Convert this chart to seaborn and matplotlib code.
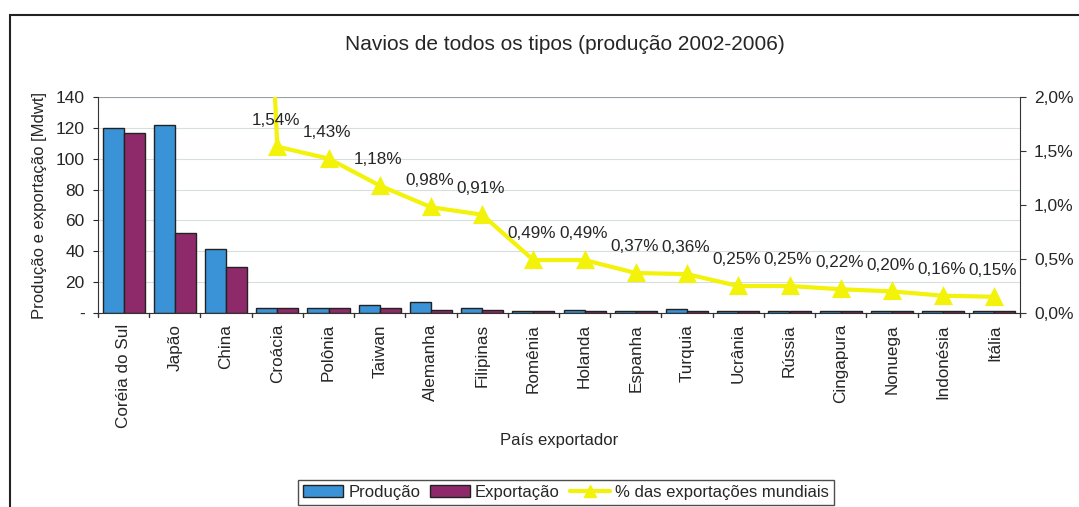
import pandas as pd
import matplotlib.pyplot as plt
import seaborn as sns
from matplotlib.patches import Rectangle
from matplotlib.lines import Line2D

# dados do gráfico
paises = ['Coréia do Sul', 'Japão', 'China', 'Croácia', 'Polônia', 'Taiwan', 'Alemanha',
          'Filipinas', 'Romênia', 'Holanda', 'Espanha', 'Turquia', 'Ucrânia', 'Rússia',
          'Cingapura', 'Nonuega', 'Indonésia', 'Itália']
producao = [120, 122, 41.5, 3, 3, 5.5, 7, 3, 1, 2, 1, 2.5, 1, 1, 1, 1, 1.5, 1.5]
exportacao = [116.5, 52, 30, 3, 3, 3, 2, 2, 1, 1, 1, 1, 1, 1, 1, 1, 1, 1]
# % das exportações mundiais (os três primeiros ficam fora da escala)
pct_export = [40.0, 18.0, 12.0, 1.54, 1.43, 1.18, 0.98, 0.91, 0.49, 0.49, 0.37, 0.36,
              0.25, 0.25, 0.22, 0.20, 0.16, 0.15]

sns.set_style("white")
plt.rcParams['font.family'] = ['Liberation Sans', 'DejaVu Sans']

df = pd.DataFrame({'Pais': paises, 'Produção': producao, 'Exportação': exportacao})
df_long = df.melt(id_vars='Pais', var_name='Tipo', value_name='Mdwt')

fig = plt.figure(figsize=(10.79, 5.07), dpi=100)
ax = fig.add_axes([98 / 1079, 1 - 313 / 507, 922 / 1079, 216 / 507])

sns.barplot(data=df_long, x='Pais', y='Mdwt', hue='Tipo', ax=ax,
            palette=['#3a93d6', '#8e2a6a'], edgecolor='#222222', linewidth=1,
            width=0.82, saturation=1, legend=False)

ax.set_ylim(0, 140)
ax.set_yticks(range(0, 141, 20))
ax.set_yticklabels(['-'] + [str(v) for v in range(20, 141, 20)], fontsize=12.5)
ax.set_xlabel('País exportador', fontsize=12, labelpad=3)
ax.set_ylabel('Produção e exportação [Mdwt]', fontsize=12, labelpad=6)
ax.tick_params(axis='x', labelrotation=90, labelsize=12.3, length=0, pad=8)
ax.tick_params(axis='y', pad=6)
ax.grid(axis='y', color='#d8dde0', linewidth=0.8)
ax.set_axisbelow(True)
for s in ['top', 'right']:
    ax.spines[s].set_visible(False)
for s in ['left', 'bottom']:
    ax.spines[s].set_color('#333333')
# marcas entre as categorias
for i in range(len(paises) + 1):
    ax.plot([i - 0.5, i - 0.5], [0, -2.5], color='#333333', lw=1, clip_on=False)
ax.axhline(140, color='#9aa0a4', lw=0.8)

ax2 = ax.twinx()
sns.pointplot(x=paises, y=pct_export, ax=ax2, color='#f2f20a', markers='^',
              markersize=10, linewidth=3, errorbar=None)
ax2.set_xlim(ax.get_xlim())
ax2.set_ylim(0, 2.0)
ax2.set_yticks([0, 0.5, 1.0, 1.5, 2.0])
ax2.set_yticklabels(['0,0%', '0,5%', '1,0%', '1,5%', '2,0%'], fontsize=12.5)
ax2.tick_params(axis='y', length=4, color='#333333', pad=6)
for s in ['top', 'left', 'bottom']:
    ax2.spines[s].set_visible(False)
ax2.spines['right'].set_color('#333333')

for i, v in enumerate(pct_export):
    if v <= 2.0:
        ax2.annotate(f'{v:.2f}%'.replace('.', ','), (i, v), xytext=(-1, 19),
                     textcoords='offset points', ha='center', va='center',
                     fontsize=12.3)

fig.text(0.5235, 1 - 44 / 507, 'Navios de todos os tipos (produção 2002-2006)',
         ha='center', va='center', fontsize=15)

# borda da área do gráfico
fig.patches.append(Rectangle((10 / 1079, -0.05), 1.1, 1 - 15 / 507 + 0.05,
                             transform=fig.transFigure, fill=False,
                             edgecolor='#222222', linewidth=1.5))

handles = [
    Rectangle((0, 0), 1, 1, facecolor='#3a93d6', edgecolor='#222222'),
    Rectangle((0, 0), 1, 1, facecolor='#8e2a6a', edgecolor='#222222'),
    Line2D([0], [0], color='#f2f20a', lw=3, marker='^', markersize=8),
]
fig.legend(handles, ['Produção', 'Exportação', '% das exportações mundiais'],
           loc='center', bbox_to_anchor=(566 / 1079, 1 - 492 / 507), ncol=3,
           fontsize=12, frameon=True, fancybox=False, edgecolor='#222222',
           handlelength=2.4, handletextpad=0.3, columnspacing=0.6,
           borderpad=0.3)

fig.savefig('out.png', dpi=100)
